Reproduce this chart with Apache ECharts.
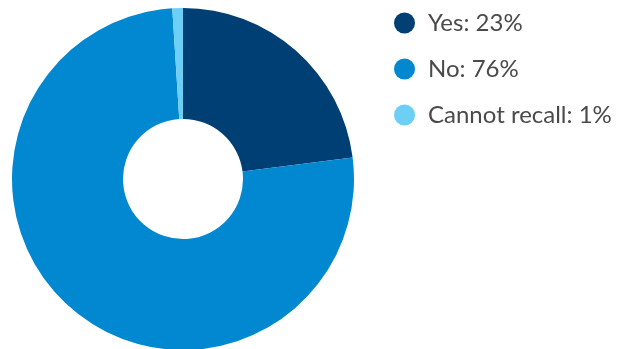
<!DOCTYPE html>
<html>
<head>
<meta charset="utf-8">
<script src="https://cdn.jsdelivr.net/npm/echarts@6/dist/echarts.min.js"></script>
<style>
html, body { margin: 0; padding: 0; background: #fff; }
#chart { width: 623px; height: 349px; }
</style>
</head>
<body>
<div id="chart"></div>
<script>
const categories = ['Yes', 'No', 'Cannot recall'];
const shares = [23, 76, 1];
const colors = ['#003f74', '#0288d1', '#6dcff6'];

const chart = echarts.init(document.getElementById('chart'), null, { renderer: 'canvas' });
chart.setOption({
  animation: false,
  color: colors,
  legend: {
    orient: 'vertical',
    left: 389,
    top: 6,
    icon: 'circle',
    itemWidth: 21,
    itemHeight: 21,
    itemGap: 22,
    selectedMode: false,
    formatter: name => name + ': ' + shares[categories.indexOf(name)] + '%',
    textStyle: {
      fontFamily: 'Lato',
      fontSize: 24,
      lineHeight: 24,
      color: '#4a4a4a',
      padding: [0, 0, 0, 8]
    }
  },
  series: [{
    type: 'pie',
    center: [183, 179],
    radius: [60, 171],
    startAngle: 90,
    clockwise: true,
    label: { show: false },
    labelLine: { show: false },
    itemStyle: { borderWidth: 0 },
    emphasis: { disabled: true },
    data: categories.map((c, i) => ({ name: c, value: shares[i] }))
  }]
});
</script>
</body>
</html>
